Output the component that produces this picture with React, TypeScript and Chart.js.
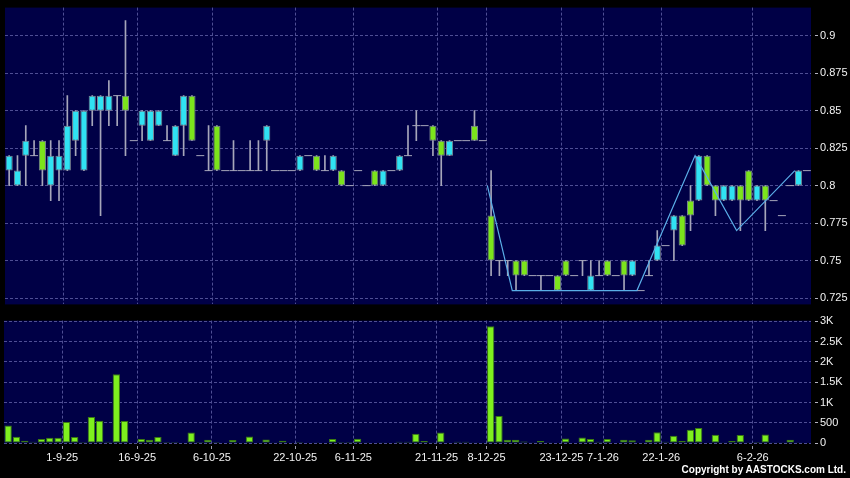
import React, { useEffect, useRef } from 'react';
import { Chart, registerables } from 'chart.js';

Chart.register(...registerables);

// ---- data (daily candles, index 0..96) ----
const OPEN = [
  0.81, 0.80, 0.82, 0.82, 0.83, 0.80, 0.81, 0.81, 0.83, 0.81,
  0.85, 0.85, 0.85, 0.86, 0.86, 0.83, 0.84, 0.83, 0.84, 0.83,
  0.82, 0.84, 0.86, 0.82, 0.81, 0.84, 0.81, 0.81, 0.81, 0.81,
  0.81, 0.83, 0.81, 0.81, 0.81, 0.81, 0.82, 0.82, 0.81, 0.81,
  0.81, 0.80, 0.81, 0.80, 0.81, 0.80, 0.81, 0.81, 0.82, 0.84,
  0.84, 0.84, 0.83, 0.82, 0.83, 0.83, 0.84, 0.83, 0.78, 0.75,
  0.75, 0.75, 0.75, 0.74, 0.74, 0.74, 0.74, 0.75, 0.74, 0.75,
  0.73, 0.74, 0.75, 0.74, 0.75, 0.74, 0.73, 0.74, 0.75, 0.76,
  0.77, 0.78, 0.79, 0.79, 0.82, 0.80, 0.79, 0.79, 0.80, 0.81,
  0.79, 0.80, 0.79, 0.78, 0.80, 0.80, 0.81,
];
const HIGH = [
  0.82, 0.82, 0.84, 0.83, 0.83, 0.83, 0.83, 0.86, 0.85, 0.85,
  0.86, 0.86, 0.87, 0.86, 0.91, 0.83, 0.85, 0.85, 0.85, 0.84,
  0.84, 0.86, 0.86, 0.82, 0.84, 0.84, 0.81, 0.83, 0.81, 0.83,
  0.83, 0.84, 0.81, 0.81, 0.81, 0.82, 0.82, 0.82, 0.82, 0.82,
  0.81, 0.80, 0.81, 0.80, 0.81, 0.81, 0.81, 0.82, 0.84, 0.85,
  0.84, 0.84, 0.83, 0.83, 0.83, 0.83, 0.85, 0.83, 0.81, 0.75,
  0.75, 0.75, 0.75, 0.74, 0.74, 0.74, 0.74, 0.75, 0.74, 0.75,
  0.75, 0.75, 0.75, 0.74, 0.75, 0.75, 0.73, 0.75, 0.77, 0.76,
  0.78, 0.78, 0.80, 0.82, 0.82, 0.80, 0.80, 0.80, 0.80, 0.81,
  0.80, 0.80, 0.79, 0.78, 0.80, 0.81, 0.81,
];
const LOW = [
  0.80, 0.80, 0.80, 0.82, 0.80, 0.79, 0.79, 0.81, 0.82, 0.81,
  0.84, 0.78, 0.84, 0.84, 0.82, 0.83, 0.83, 0.83, 0.84, 0.83,
  0.82, 0.82, 0.83, 0.82, 0.81, 0.81, 0.81, 0.81, 0.81, 0.81,
  0.81, 0.81, 0.81, 0.81, 0.81, 0.81, 0.82, 0.81, 0.81, 0.81,
  0.80, 0.80, 0.81, 0.80, 0.80, 0.80, 0.81, 0.81, 0.82, 0.83,
  0.84, 0.82, 0.80, 0.82, 0.83, 0.83, 0.83, 0.83, 0.74, 0.74,
  0.74, 0.73, 0.74, 0.74, 0.73, 0.74, 0.73, 0.74, 0.74, 0.74,
  0.73, 0.74, 0.74, 0.74, 0.73, 0.74, 0.73, 0.74, 0.75, 0.76,
  0.75, 0.76, 0.77, 0.79, 0.80, 0.78, 0.79, 0.79, 0.77, 0.79,
  0.79, 0.77, 0.79, 0.78, 0.80, 0.80, 0.81,
];
const CLOSE = [
  0.82, 0.81, 0.83, 0.82, 0.81, 0.82, 0.82, 0.84, 0.85, 0.85,
  0.86, 0.86, 0.86, 0.86, 0.85, 0.83, 0.85, 0.85, 0.85, 0.83,
  0.84, 0.86, 0.83, 0.82, 0.81, 0.81, 0.81, 0.81, 0.81, 0.81,
  0.81, 0.84, 0.81, 0.81, 0.81, 0.82, 0.82, 0.81, 0.81, 0.82,
  0.80, 0.80, 0.81, 0.80, 0.80, 0.81, 0.81, 0.82, 0.82, 0.84,
  0.84, 0.83, 0.82, 0.83, 0.83, 0.83, 0.83, 0.83, 0.75, 0.75,
  0.75, 0.74, 0.74, 0.74, 0.74, 0.74, 0.73, 0.74, 0.74, 0.75,
  0.74, 0.74, 0.74, 0.74, 0.74, 0.75, 0.73, 0.74, 0.76, 0.76,
  0.78, 0.76, 0.78, 0.82, 0.80, 0.79, 0.80, 0.80, 0.79, 0.79,
  0.80, 0.79, 0.79, 0.78, 0.80, 0.81, 0.81,
];
const VOLUME = [
  430, 154, 57, 32, 97, 130, 130, 519, 146, 25,
  640, 551, 32, 1695, 543, 0, 97, 81, 146, 24,
  24, 0, 260, 24, 81, 24, 0, 73, 0, 162,
  0, 89, 16, 57, 0, 24, 0, 16, 0, 97,
  24, 24, 105, 16, 0, 16, 0, 32, 32, 227,
  49, 16, 260, 0, 32, 32, 16, 0, 2880, 665,
  81, 81, 40, 8, 49, 8, 0, 110, 0, 138,
  97, 32, 97, 0, 81, 65, 0, 81, 268, 32,
  178, 49, 324, 373, 0, 203, 16, 49, 195, 8,
  24, 211, 8, 8, 81, 16, 0,
];

// zigzag overlay: turning points (candle index, price)
const ZIGZAG_INDEX = [58, 61, 76, 83, 88, 95];
const ZIGZAG_VALUE = [0.80, 0.73, 0.73, 0.82, 0.77, 0.81];

// date ticks (placed at the boundary before the given candle)
const TICK_INDEX = [7, 16, 25, 35, 42, 52, 58, 67, 72, 79, 90];
const TICK_LABELS = ['1-9-25', '16-9-25', '6-10-25', '22-10-25', '6-11-25', '21-11-25', '8-12-25', '23-12-25', '7-1-26', '22-1-26', '6-2-26'];

const PRICE_TICKS = [0.725, 0.75, 0.775, 0.8, 0.825, 0.85, 0.875, 0.9];
const VOLUME_TICKS = [0, 500, 1000, 1500, 2000, 2500, 3000];
const VOLUME_TICK_LABELS = ['0', '500', '1K', '1.5K', '2K', '2.5K', '3K'];

// ---- styles ----
const NAVY = '#000046';
const GRID = '#4e4e94';
const UP = '#30e2f2';
const DOWN = '#7ce41c';
const BODY_BORDER = '#7c8794';
const WICK = '#a6a6ba';
const ZIG = '#5aaee8';
const VOL_FILL = '#7ef01e';
const VOL_BORDER = '#3a7a12';
const TEXT = '#f2f2f2';
const FONT = { family: '"Liberation Sans", Arial, sans-serif', size: 11 };
const AXIS_W = 39;
const TICK_SHIFT = 0.5;
const ZIG_SHIFT = 0.45;

const bgPlugin = {
  id: 'panelBg',
  beforeDraw(chart: any) {
    const { ctx, chartArea: a } = chart;
    ctx.save();
    ctx.fillStyle = '#000';
    ctx.fillRect(0, 0, chart.width, chart.height);
    ctx.fillStyle = NAVY;
    ctx.fillRect(a.left, a.top, a.right - a.left, a.bottom - a.top);
    ctx.restore();
  },
};

const IDX = OPEN.map((_, i) => i);
const X_MIN = -0.5;
const X_MAX = OPEN.length - 0.5;

function xScale(showLabels: boolean): any {
  return {
    type: 'linear',
    min: X_MIN,
    max: X_MAX,
    offset: false,
    afterBuildTicks: (s: any) => {
      s.ticks = TICK_INDEX.map((i) => ({ value: i - TICK_SHIFT }));
    },
    afterFit: (s: any) => {
      s.height = showLabels ? 35 : 0;
    },
    ticks: {
      display: showLabels,
      autoSkip: false,
      maxRotation: 0,
      minRotation: 0,
      color: TEXT,
      font: FONT,
      padding: 2,
      callback: (_v: any, i: number) => TICK_LABELS[i],
    },
    grid: {
      color: GRID,
      lineWidth: 1,
      offset: false,
      drawTicks: showLabels,
      tickLength: 6,
      tickColor: '#9a9aa8',
      tickBorderDash: [0, 3, 3, 20],
    },
    border: { display: false, dash: [3, 2] },
  };
}

function yScale(min: number, max: number, ticks: number[], label: (v: number, i: number) => string): any {
  return {
    position: 'right',
    min,
    max,
    afterBuildTicks: (s: any) => {
      s.ticks = ticks.map((v) => ({ value: v }));
    },
    afterFit: (s: any) => {
      s.width = AXIS_W;
    },
    ticks: {
      color: TEXT,
      font: FONT,
      padding: 2,
      autoSkip: false,
      callback: (v: any, i: number) => label(v, i),
    },
    grid: {
      color: GRID,
      lineWidth: 1,
      drawTicks: true,
      tickLength: 7,
      tickColor: '#b4b4c0',
      tickBorderDash: [0, 4, 3, 20],
    },
    border: { display: false, dash: [3, 2] },
  };
}

function priceConfig(): any {
  const bodies = IDX.filter((i) => OPEN[i] !== CLOSE[i]).map((i) => ({ x: i, y: [OPEN[i], CLOSE[i]] }));
  const bodyColors = IDX.filter((i) => OPEN[i] !== CLOSE[i]).map((i) => (CLOSE[i] > OPEN[i] ? UP : DOWN));
  const dojis = IDX.filter((i) => OPEN[i] === CLOSE[i]).map((i) => ({ x: i, y: OPEN[i] }));
  const wicks = IDX.filter((i) => HIGH[i] > LOW[i]).map((i) => ({ x: i, y: [LOW[i], HIGH[i]] }));
  const zig = ZIGZAG_INDEX.map((v, k) => ({ x: v - ZIG_SHIFT, y: ZIGZAG_VALUE[k] }));
  return {
    type: 'bar',
    data: {
      datasets: [
        { type: 'line', data: zig, borderColor: ZIG, borderWidth: 1.2, pointRadius: 0, fill: false, tension: 0 },
        {
          type: 'bar', data: bodies, backgroundColor: bodyColors, borderColor: BODY_BORDER, borderWidth: 1,
          borderSkipped: false, grouped: false, barPercentage: 0.86, categoryPercentage: 1,
        },
        {
          type: 'line', data: dojis, showLine: false, pointStyle: 'line', pointRadius: 4,
          pointBorderColor: WICK, pointBackgroundColor: WICK, pointBorderWidth: 1,
        },
        { type: 'bar', data: wicks, backgroundColor: WICK, borderWidth: 0, barThickness: 1, grouped: false },
      ],
    },
    options: {
      responsive: false,
      animation: false,
      events: [],
      layout: { padding: { left: 4, top: 7, right: 0, bottom: 7 } },
      plugins: { legend: { display: false }, tooltip: { enabled: false } },
      scales: {
        x: xScale(false),
        y: yScale(0.7208, 0.9187, PRICE_TICKS, (v) => String(parseFloat(Number(v).toFixed(3)))),
      },
    },
    plugins: [bgPlugin],
  };
}

function volumeConfig(): any {
  return {
    type: 'bar',
    data: {
      datasets: [
        {
          type: 'bar', data: VOLUME.map((v, i) => ({ x: i, y: v })), backgroundColor: VOL_FILL,
          borderColor: VOL_BORDER, borderWidth: 1, borderSkipped: false, grouped: false,
          barPercentage: 0.88, categoryPercentage: 1,
        },
      ],
    },
    options: {
      responsive: false,
      animation: false,
      events: [],
      layout: { padding: { left: 4, top: 7, right: 0, bottom: 0 } },
      plugins: { legend: { display: false }, tooltip: { enabled: false } },
      scales: {
        x: xScale(true),
        y: yScale(0, 3020, VOLUME_TICKS, (_v, i) => VOLUME_TICK_LABELS[i]),
      },
    },
    plugins: [bgPlugin],
  };
}

export default function App() {
  const topRef = useRef<HTMLCanvasElement>(null);
  const botRef = useRef<HTMLCanvasElement>(null);
  useEffect(() => {
    const c1 = new Chart(topRef.current as HTMLCanvasElement, priceConfig());
    const c2 = new Chart(botRef.current as HTMLCanvasElement, volumeConfig());
    return () => {
      c1.destroy();
      c2.destroy();
    };
  }, []);
  return (
    <div style={{ position: 'fixed', left: 0, top: 0, width: 850, height: 478, background: '#000', overflow: 'hidden' }}>
      <canvas ref={topRef} width={850} height={314} style={{ position: 'absolute', left: 0, top: -1, width: 850, height: 314 }} />
      <canvas ref={botRef} width={850} height={166} style={{ position: 'absolute', left: 0, top: 312, width: 850, height: 166 }} />
      <div
        style={{
          position: 'absolute', right: 4, top: 464, color: '#ffffff', fontFamily: '"Liberation Sans", Arial, sans-serif',
          fontWeight: 'bold', fontSize: 10, lineHeight: '12px', whiteSpace: 'nowrap',
        }}
      >
        Copyright by AASTOCKS.com Ltd.
      </div>
    </div>
  );
}
